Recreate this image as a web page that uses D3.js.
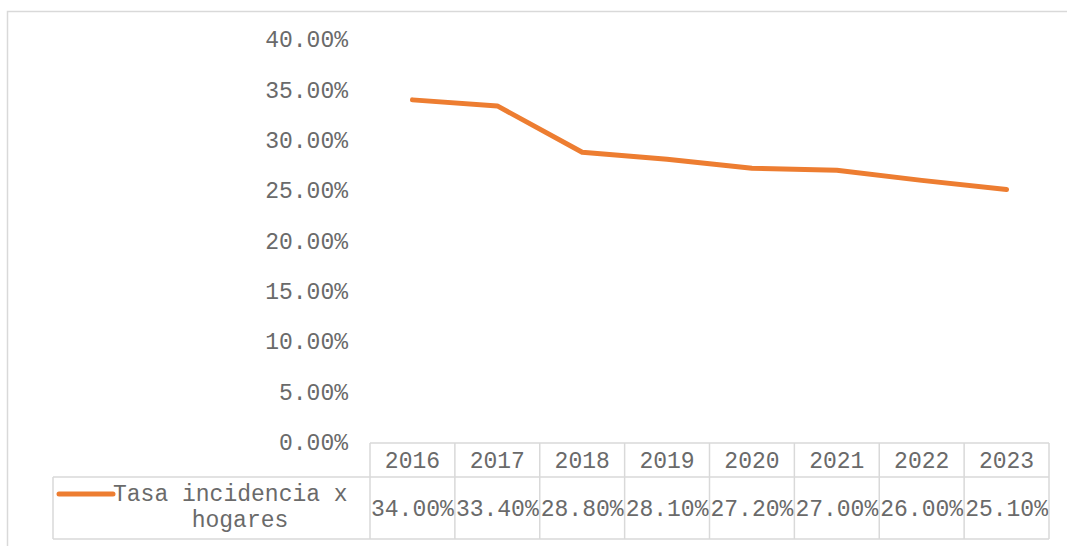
<!DOCTYPE html>
<html><head><meta charset="utf-8">
<script src="https://cdn.jsdelivr.net/npm/d3@7"></script>
<style>
body{margin:0;background:#fff;}
svg text{font-family:"Liberation Mono","Courier New",monospace;fill:#6a6a6a;}
</style></head>
<body><svg id="c" width="1067" height="546"></svg>
<script>
const years = ["2016","2017","2018","2019","2020","2021","2022","2023"];
const values = [34.0, 33.4, 28.8, 28.1, 27.2, 27.0, 26.0, 25.1];
const yTicks = [0,5,10,15,20,25,30,35,40];
const seriesName = ["Tasa incidencia x","hogares"];

const svg = d3.select("#c");
const gridCol = "#d9d9d9";
const orange = "#ED7D31";
const textCol = "#6a6a6a";
const fs = 23;

// outer chart border
svg.append("rect").attr("x",7.5).attr("y",11.5).attr("width",1080).attr("height",560)
  .attr("fill","none").attr("stroke",gridCol).attr("stroke-width",1.5);

const x = d3.scaleBand().domain(years).range([370,1049]).padding(0);
const y = d3.scaleLinear().domain([0,40]).range([442,39.5]);

// y axis labels
const yAxis = d3.axisLeft(y).tickValues(yTicks).tickSize(0).tickPadding(0)
  .tickFormat(d => d3.format(".2f")(d) + "%");
const ga = svg.append("g").attr("transform","translate(348,0)").call(yAxis);
ga.select(".domain").remove();
ga.selectAll("text").attr("font-size",fs).attr("font-family","Liberation Mono").attr("fill",textCol);

// line
const line = d3.line().x((d,i)=>x(years[i])+x.bandwidth()/2).y(d=>y(d));
svg.append("path").datum(values).attr("d",line).attr("fill","none")
  .attr("stroke",orange).attr("stroke-width",5).attr("stroke-linejoin","round").attr("stroke-linecap","round");

// data table
const hTop = 443, hBot = 477, dBot = 539, legL = 53;
const tg = svg.append("g").attr("stroke",gridCol).attr("stroke-width",1.5);
tg.append("line").attr("x1",370).attr("x2",1049).attr("y1",hTop).attr("y2",hTop);
tg.append("line").attr("x1",legL).attr("x2",1049).attr("y1",hBot).attr("y2",hBot);
tg.append("line").attr("x1",legL).attr("x2",1049).attr("y1",dBot).attr("y2",dBot);
tg.append("line").attr("x1",legL).attr("x2",legL).attr("y1",hBot).attr("y2",dBot);
const bounds = years.map(d=>x(d)).concat([1049]);
bounds.forEach(b=>{
  tg.append("line").attr("x1",b).attr("x2",b).attr("y1",hTop).attr("y2",dBot);
});

svg.selectAll("text.yr").data(years).enter().append("text").attr("class","yr")
  .attr("x",d=>x(d)+x.bandwidth()/2).attr("y",(hTop+hBot)/2+8)
  .attr("text-anchor","middle").attr("font-size",fs).text(d=>d);

svg.selectAll("text.val").data(values).enter().append("text").attr("class","val")
  .attr("x",(d,i)=>x(years[i])+x.bandwidth()/2).attr("y",(hBot+dBot)/2+8)
  .attr("text-anchor","middle").attr("font-size",fs)
  .attr("textLength",x.bandwidth()-2).attr("lengthAdjust","spacingAndGlyphs")
  .text(d=>d3.format(".2f")(d)+"%");

// legend cell
svg.append("line").attr("x1",59).attr("x2",113).attr("y1",494).attr("y2",494)
  .attr("stroke",orange).attr("stroke-width",5).attr("stroke-linecap","round");
svg.append("text").attr("x",113).attr("y",501).attr("font-size",fs).text(seriesName[0]);
svg.append("text").attr("x",240).attr("y",527).attr("text-anchor","middle").attr("font-size",fs).text(seriesName[1]);
</script></body></html>
